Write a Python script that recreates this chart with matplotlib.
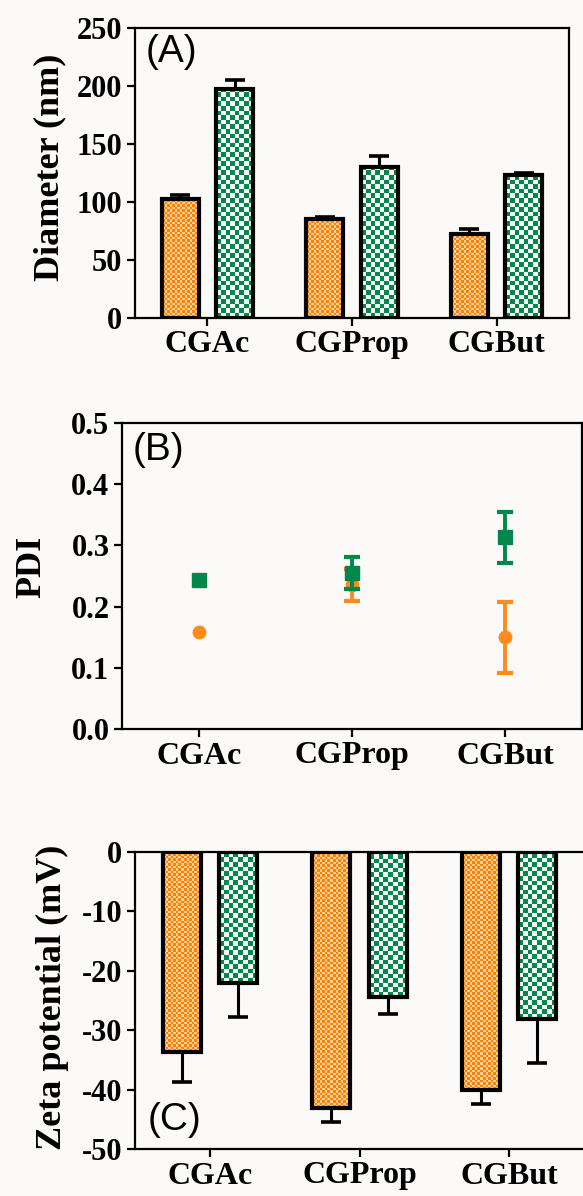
import numpy as np
import matplotlib
matplotlib.use("Agg")
import matplotlib.pyplot as plt

# -------------------------------------
# Data
# -------------------------------------
groups = ["CGAc", "CGProp", "CGBut"]

diam_orange = [103, 85, 72]
diam_orange_err = [3, 2, 5]
diam_green = [197, 130, 123]
diam_green_err = [8, 10, 2]

pdi_orange = [0.158, 0.235, 0.150]
pdi_orange_err = [0.0, 0.026, 0.058]
pdi_green = [0.243, 0.255, 0.313]
pdi_green_err = [0.0, 0.026, 0.041]

zeta_orange = [-33.7, -43.1, -40.1]
zeta_orange_err = [5.0, 2.4, 2.3]
zeta_green = [-22.1, -24.4, -28.1]
zeta_green_err = [5.7, 2.9, 7.4]

# -------------------------------------
# Style
# -------------------------------------
plt.rcParams["axes.unicode_minus"] = False

W, H = 583, 1196
BG = "#fcfaf9"
ORANGE = "#ff8c1a"
GREEN = "#00874b"
SERIF = "Liberation Serif"
SANS = "Liberation Sans"

ORANGE_A = np.array([255, 128, 0]) / 255
ORANGE_B = np.array([255, 210, 155]) / 255
GREEN_A = np.array([0, 135, 75]) / 255
GREEN_B = np.array([250, 250, 248]) / 255

BAR_W = 0.255
OFF = 0.188

fig = plt.figure(figsize=(W / 100, H / 100), dpi=100, facecolor=BG)


def px_axes(left, top, right, bottom):
    return fig.add_axes([left / W, 1 - bottom / H, (right - left) / W, (bottom - top) / H])


def style_axes(ax):
    ax.set_facecolor(BG)
    for s in ax.spines.values():
        s.set_linewidth(1.6)
    ax.tick_params(direction="out", length=6, width=1.6, pad=3)
    for lab in ax.get_yticklabels():
        lab.set_fontfamily(SERIF)
        lab.set_fontweight("bold")
        lab.set_fontsize(22)
    for lab in ax.get_xticklabels():
        lab.set_fontfamily(SERIF)
        lab.set_fontweight("bold")
        lab.set_fontsize(23)


def checker_fill(ax, bars, c1, c2, cell):
    # fill each bar with a checkerboard image clipped to the bar
    for b in bars:
        x0, y0 = b.get_x(), b.get_y()
        x1, y1 = x0 + b.get_width(), y0 + b.get_height()
        (px0, py0), (px1, py1) = ax.transData.transform([(x0, y0), (x1, y1)])
        w = max(int(round(abs(px1 - px0))), 1)
        h = max(int(round(abs(py1 - py0))), 1)
        jj, ii = np.meshgrid(np.arange(w), np.arange(h))
        mask = ((np.floor(jj / cell) + np.floor(ii / cell)) % 2).astype(bool)
        img = np.where(mask[..., None], c2, c1)
        ax.imshow(img, extent=[x0, x1, min(y0, y1), max(y0, y1)], origin="lower",
                  interpolation="nearest", aspect="auto", zorder=1, clip_path=b)


x = np.arange(len(groups))

# -------------------------------------
# (A) Diameter
# -------------------------------------
axA = px_axes(135, 28, 569, 318)
axA.set_xlim(-0.5, 2.5)
axA.set_ylim(0, 250)
axA.set_yticks([0, 50, 100, 150, 200, 250])
axA.set_xticks(x)
axA.set_xticklabels(groups)
bo = axA.bar(x - OFF, diam_orange, BAR_W, facecolor="none", edgecolor="black", linewidth=3, zorder=2)
bg = axA.bar(x + OFF, diam_green, BAR_W, facecolor="none", edgecolor="black", linewidth=3, zorder=2)
checker_fill(axA, bo, ORANGE_A, ORANGE_B, 2.5)
checker_fill(axA, bg, GREEN_A, GREEN_B, 4.6)
axA.errorbar(x - OFF, diam_orange, yerr=[np.zeros(3), diam_orange_err], fmt="none",
             ecolor="black", elinewidth=2.2, capsize=7, capthick=2.6, zorder=3)
axA.errorbar(x + OFF, diam_green, yerr=[np.zeros(3), diam_green_err], fmt="none",
             ecolor="black", elinewidth=2.2, capsize=7, capthick=2.6, zorder=3)
axA.set_xlim(-0.5, 2.5)
axA.set_ylim(0, 250)
style_axes(axA)

# -------------------------------------
# (B) PDI
# -------------------------------------
axB = px_axes(122, 423, 582, 729)
axB.set_xlim(-0.5, 2.5)
axB.set_ylim(0, 0.5)
axB.set_yticks([0.0, 0.1, 0.2, 0.3, 0.4, 0.5])
axB.set_yticklabels(["0.0", "0.1", "0.2", "0.3", "0.4", "0.5"])
axB.set_xticks(x)
axB.set_xticklabels(groups)
for vals, errs, col, mk, ms, z in [(pdi_orange, pdi_orange_err, ORANGE, "o", 9, 3),
                                   (pdi_green, pdi_green_err, GREEN, "s", 9.5, 4)]:
    vals = np.array(vals)
    errs = np.array(errs)
    has = errs > 0
    axB.errorbar(x[has], vals[has], yerr=errs[has], fmt="none", ecolor=col,
                 elinewidth=2.8, capsize=6, capthick=3, zorder=z)
    axB.plot(x, vals, linestyle="none", marker=mk, color=col, markersize=ms, zorder=z)
style_axes(axB)

# -------------------------------------
# (C) Zeta potential
# -------------------------------------
axC = px_axes(135, 852, 584, 1149)
axC.set_xlim(-0.5, 2.5)
axC.set_ylim(-50, 0)
axC.set_yticks([0, -10, -20, -30, -40, -50])
axC.set_xticks(x)
axC.set_xticklabels(groups)
co = axC.bar(x - OFF, zeta_orange, BAR_W, facecolor="none", edgecolor="black", linewidth=3, zorder=2)
cg = axC.bar(x + OFF, zeta_green, BAR_W, facecolor="none", edgecolor="black", linewidth=3, zorder=2)
checker_fill(axC, co, ORANGE_A, ORANGE_B, 2.5)
checker_fill(axC, cg, GREEN_A, GREEN_B, 4.6)
axC.errorbar(x - OFF, zeta_orange, yerr=[zeta_orange_err, np.zeros(3)], fmt="none",
             ecolor="black", elinewidth=2.2, capsize=7, capthick=2.6, zorder=3)
axC.errorbar(x + OFF, zeta_green, yerr=[zeta_green_err, np.zeros(3)], fmt="none",
             ecolor="black", elinewidth=2.2, capsize=7, capthick=2.6, zorder=3)
axC.set_xlim(-0.5, 2.5)
axC.set_ylim(-50, 0)
axC.spines["right"].set_visible(False)
style_axes(axC)

# -------------------------------------
# Axis titles and panel letters
# -------------------------------------
ylab = dict(rotation=90, ha="center", va="center", fontsize=26,
            fontfamily=SERIF, fontweight="bold")
fig.text(50 / W, 1 - 167 / H, "Diameter (nm)", **ylab)
fig.text(32 / W, 1 - 567 / H, "PDI", **ylab)
fig.text(52 / W, 1 - 997 / H, "Zeta potential (mV)", **ylab)

plab = dict(ha="left", va="center", fontsize=28, fontfamily=SANS)
fig.text(146 / W, 1 - 52 / H, "(A)", **plab)
fig.text(133 / W, 1 - 450 / H, "(B)", **plab)
fig.text(148 / W, 1 - 1120 / H, "(C)", **plab)

fig.savefig("out.png", dpi=100, facecolor=BG)
